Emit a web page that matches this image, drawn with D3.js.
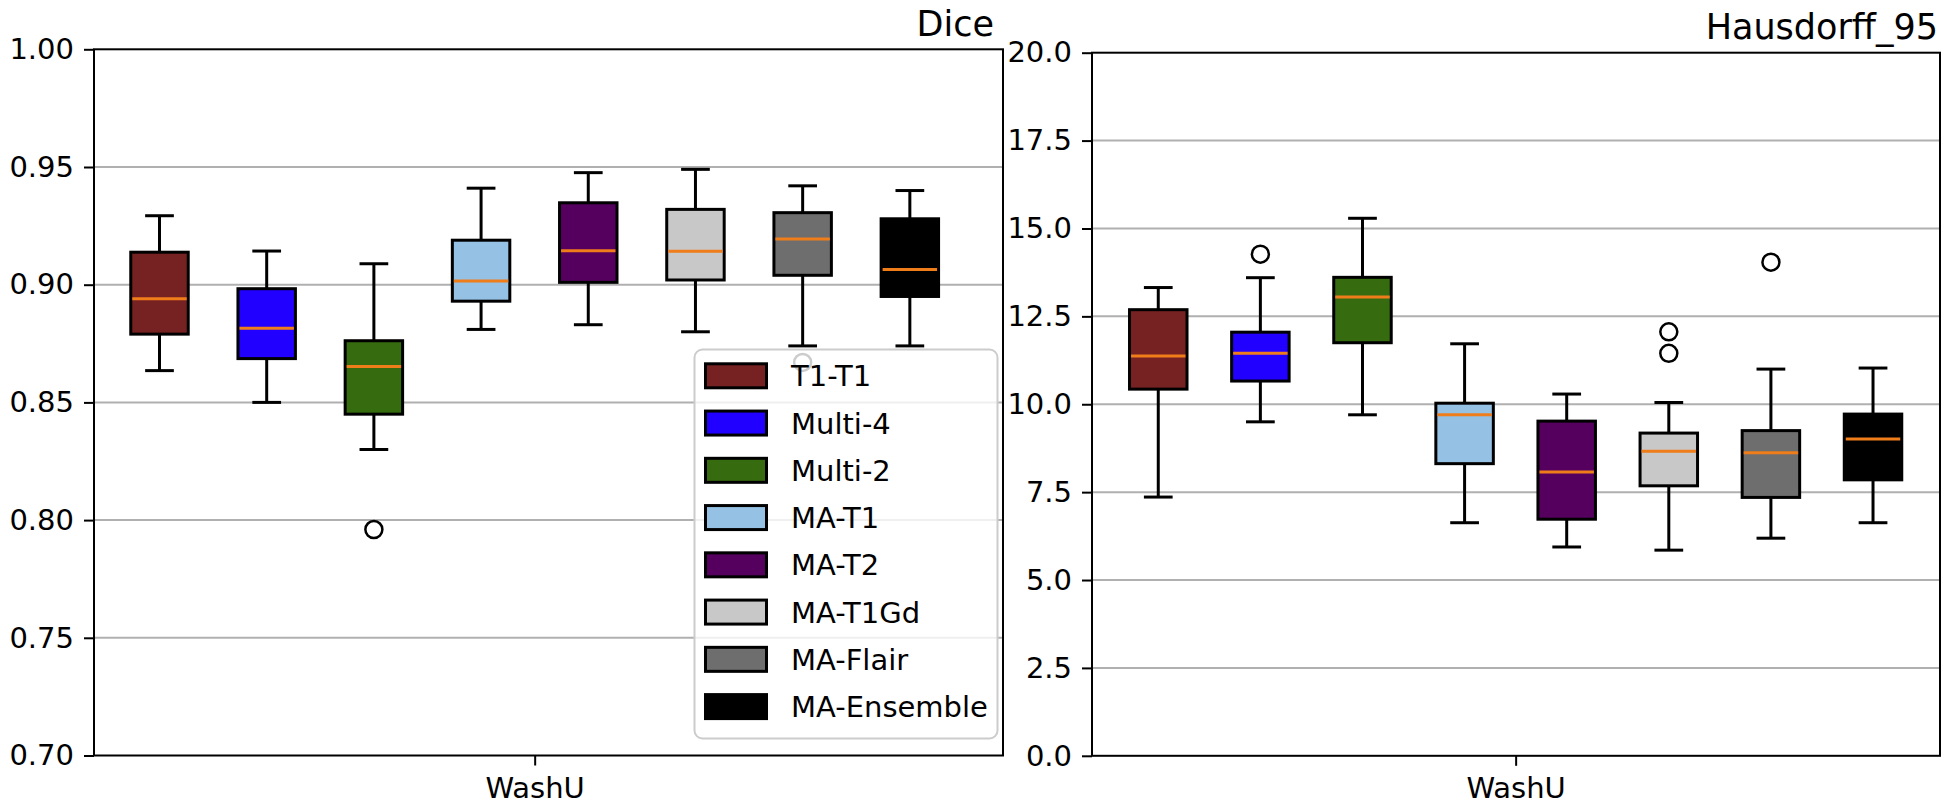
<!DOCTYPE html>
<html>
<head>
<meta charset="utf-8">
<script src="https://cdn.jsdelivr.net/npm/d3@7"></script>
<style>
  html, body { margin: 0; padding: 0; background: #ffffff; }
  svg { display: block; font-family: "DejaVu Sans", sans-serif; }
</style>
</head>
<body>
<svg id="chart" width="1950" height="811"></svg>
<script>
// ---- data ----
const methods = ["T1-T1", "Multi-4", "Multi-2", "MA-T1", "MA-T2", "MA-T1Gd", "MA-Flair", "MA-Ensemble"];
const colors = ["#772222", "#2200ff", "#376b10", "#94c1e4", "#55005f", "#c8c8c8", "#6e6e6e", "#000000"];
const siteLabel = "WashU";

const diceLow = [0.8635, 0.850, 0.830, 0.881, 0.883, 0.880, 0.874, 0.874];
const diceQ1 = [0.879, 0.8686, 0.845, 0.893, 0.901, 0.902, 0.904, 0.895];
const diceMed = [0.894, 0.8815, 0.8653, 0.9016, 0.9144, 0.9142, 0.9194, 0.9065];
const diceQ3 = [0.9138, 0.8983, 0.8762, 0.9189, 0.9348, 0.932, 0.9306, 0.928];
const diceHigh = [0.9293, 0.9143, 0.9089, 0.941, 0.9476, 0.949, 0.942, 0.940];
const diceOutliers = [[], [], [0.796], [], [], [], [0.867], []];
const diceTicks = [0.70, 0.75, 0.80, 0.85, 0.90, 0.95, 1.00];

const hdLow = [7.36, 9.50, 9.70, 6.63, 5.94, 5.85, 6.19, 6.63];
const hdQ1 = [10.43, 10.66, 11.75, 8.31, 6.73, 7.68, 7.35, 7.85];
const hdMed = [11.37, 11.45, 13.05, 9.70, 8.07, 8.66, 8.62, 9.01];
const hdQ3 = [12.69, 12.05, 13.61, 10.03, 9.52, 9.18, 9.25, 9.72];
const hdHigh = [13.32, 13.60, 15.29, 11.72, 10.29, 10.05, 11.00, 11.03];
const hdOutliers = [[], [14.27], [], [], [], [12.06, 11.45], [14.04], []];
const hdTicks = [0.0, 2.5, 5.0, 7.5, 10.0, 12.5, 15.0, 17.5, 20.0];

// ---- drawing ----
const svg = d3.select("#chart");
const FONT = 29;

function panel(cfg) {
  const g = svg.append("g");
  const x = d3.scaleLinear().domain(cfg.xDomain).range([cfg.left, cfg.right]);
  const y = d3.scaleLinear().domain(cfg.yDomain).range([cfg.bottom, cfg.top]);
  const step = x(1) - x(0);
  const bw = step * cfg.boxFrac;

  // grid
  g.append("g").selectAll("line").data(cfg.ticks.filter(t => t > cfg.yDomain[0] && t < cfg.yDomain[1]))
    .join("line")
    .attr("x1", cfg.left).attr("x2", cfg.right)
    .attr("y1", d => y(d)).attr("y2", d => y(d))
    .attr("stroke", "#b0b0b0").attr("stroke-width", 2);

  // y axis
  const yAxis = d3.axisLeft(y).tickValues(cfg.ticks).tickFormat(cfg.fmt).tickSize(10).tickPadding(10);
  const ya = g.append("g").attr("transform", `translate(${cfg.left},0)`).call(yAxis);
  ya.select(".domain").remove();
  ya.selectAll(".tick line").attr("stroke", "#000").attr("stroke-width", 2);
  ya.selectAll(".tick text").attr("font-size", FONT).attr("fill", "#000")
    .attr("font-family", "DejaVu Sans");

  // x axis
  const xAxis = d3.axisBottom(x).tickValues([cfg.centerPos]).tickFormat(() => siteLabel).tickSize(10).tickPadding(12);
  const xa = g.append("g").attr("transform", `translate(0,${cfg.bottom})`).call(xAxis);
  xa.select(".domain").remove();
  xa.selectAll(".tick line").attr("stroke", "#000").attr("stroke-width", 2);
  xa.selectAll(".tick text").attr("font-size", FONT).attr("fill", "#000")
    .attr("font-family", "DejaVu Sans");

  const idx = d3.range(methods.length);
  const boxes = g.append("g").selectAll("g").data(idx).join("g");
  // whiskers
  boxes.append("line")
    .attr("x1", i => x(i)).attr("x2", i => x(i))
    .attr("y1", i => y(cfg.high[i])).attr("y2", i => y(cfg.q3[i]))
    .attr("stroke", "#000").attr("stroke-width", 3);
  boxes.append("line")
    .attr("x1", i => x(i)).attr("x2", i => x(i))
    .attr("y1", i => y(cfg.low[i])).attr("y2", i => y(cfg.q1[i]))
    .attr("stroke", "#000").attr("stroke-width", 3);
  // caps
  boxes.append("line")
    .attr("x1", i => x(i) - bw / 4).attr("x2", i => x(i) + bw / 4)
    .attr("y1", i => y(cfg.high[i])).attr("y2", i => y(cfg.high[i]))
    .attr("stroke", "#000").attr("stroke-width", 3);
  boxes.append("line")
    .attr("x1", i => x(i) - bw / 4).attr("x2", i => x(i) + bw / 4)
    .attr("y1", i => y(cfg.low[i])).attr("y2", i => y(cfg.low[i]))
    .attr("stroke", "#000").attr("stroke-width", 3);
  // box
  boxes.append("rect")
    .attr("x", i => x(i) - bw / 2).attr("width", bw)
    .attr("y", i => y(cfg.q3[i])).attr("height", i => y(cfg.q1[i]) - y(cfg.q3[i]))
    .attr("fill", i => colors[i]).attr("stroke", "#000").attr("stroke-width", 3);
  // median
  boxes.append("line")
    .attr("x1", i => x(i) - bw / 2 + 1.5).attr("x2", i => x(i) + bw / 2 - 1.5)
    .attr("y1", i => y(cfg.med[i])).attr("y2", i => y(cfg.med[i]))
    .attr("stroke", "#ef7d1a").attr("stroke-width", 3);
  // outliers
  boxes.selectAll("circle").data(i => cfg.outliers[i].map(v => ({ i, v })))
    .join("circle")
    .attr("cx", d => x(d.i)).attr("cy", d => y(d.v)).attr("r", 8.5)
    .attr("fill", "none").attr("stroke", "#000").attr("stroke-width", 2.5);

  // frame
  g.append("rect")
    .attr("x", cfg.left).attr("y", cfg.top)
    .attr("width", cfg.right - cfg.left).attr("height", cfg.bottom - cfg.top)
    .attr("fill", "none").attr("stroke", "#000").attr("stroke-width", 2);

  // title
  g.append("text")
    .attr("x", cfg.titleX).attr("y", cfg.titleY)
    .attr("text-anchor", "end").attr("font-size", 35).attr("fill", "#000")
    .text(cfg.title);

  return { g, x, y };
}

const left = panel({
  left: 94, right: 1003, top: 49.3, bottom: 755.5,
  xDomain: [-0.611, 7.869], yDomain: [0.70, 1.00],
  ticks: diceTicks, fmt: d3.format(".2f"),
  boxFrac: 0.536, centerPos: 3.5,
  low: diceLow, q1: diceQ1, med: diceMed, q3: diceQ3, high: diceHigh, outliers: diceOutliers,
  title: "Dice", titleX: 994, titleY: 36
});

panel({
  left: 1092, right: 1940, top: 52.7, bottom: 755.8,
  xDomain: [-0.649, 7.656], yDomain: [0, 20],
  ticks: hdTicks, fmt: d3.format(".1f"),
  boxFrac: 0.563, centerPos: 3.5,
  low: hdLow, q1: hdQ1, med: hdMed, q3: hdQ3, high: hdHigh, outliers: hdOutliers,
  title: "Hausdorff_95", titleX: 1938, titleY: 39
});

// legend (in the Dice panel)
const lg = svg.append("g");
lg.append("rect")
  .attr("x", 694.5).attr("y", 349.5).attr("width", 303).attr("height", 389)
  .attr("rx", 8).attr("ry", 8)
  .attr("fill", "#ffffff").attr("fill-opacity", 0.8)
  .attr("stroke", "#cccccc").attr("stroke-width", 2);
const rowY = d3.scaleLinear().domain([0, methods.length - 1]).range([375.8, 706.6]);
const rows = lg.selectAll("g.row").data(methods).join("g").attr("class", "row")
  .attr("transform", (d, i) => `translate(0,${rowY(i)})`);
rows.append("rect")
  .attr("x", 705.5).attr("y", -12).attr("width", 61).attr("height", 24)
  .attr("fill", (d, i) => colors[i]).attr("stroke", "#000").attr("stroke-width", 3);
rows.append("text")
  .attr("x", 791).attr("y", 0).attr("dy", "0.36em")
  .attr("font-size", FONT).attr("fill", "#000")
  .text(d => d);
</script>
</body>
</html>
